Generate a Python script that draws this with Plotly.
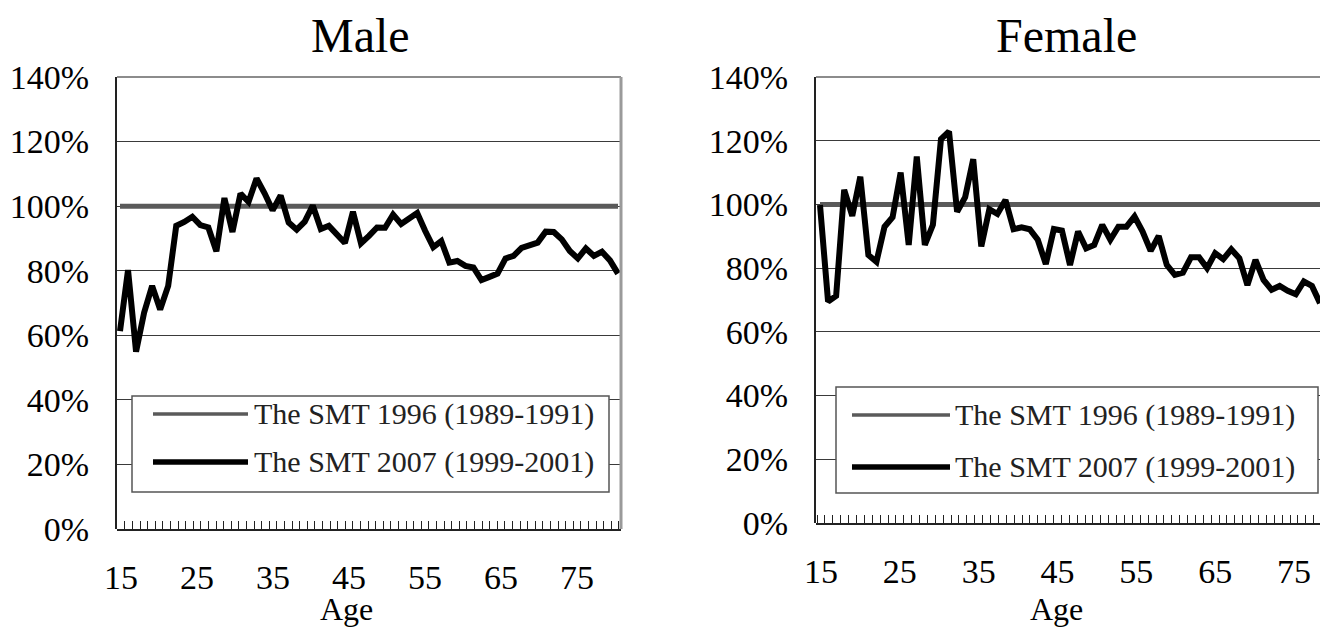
import plotly.graph_objects as go

# ---------------- data ----------------
ages = list(range(15, 78))  # 15..77

male_2007 = [61.3, 80.2, 54.9, 67.0, 75.3, 68.0, 75.3, 93.9, 95.1, 96.7,
             94.1, 93.4, 86.0, 102.5, 92.0, 103.9, 101.3, 108.6, 104.0, 98.7,
             103.3, 94.9, 92.7, 95.2, 100.2, 92.9, 93.9, 91.5, 88.6, 98.3,
             88.5, 90.8, 93.4, 93.3, 97.4, 94.5, 96.4, 97.9, 92.3, 87.3,
             89.2, 82.5, 83.0, 81.5, 81.0, 77.1, 78.1, 79.1, 83.8, 84.6,
             87.1, 88.0, 88.7, 92.1, 92.0, 89.7, 86.1, 83.8, 86.9, 84.6,
             85.9, 83.2, 79.1]

female_2007 = [99.8, 69.5, 71.3, 104.6, 96.4, 108.7, 84.1, 82.0, 93.0, 96.0,
               110.0, 87.3, 115.0, 87.3, 93.6, 120.5, 122.9, 97.7, 102.3, 114.2,
               86.8, 98.5, 97.0, 101.4, 92.2, 92.8, 92.2, 88.9, 81.3, 92.3,
               91.8, 81.0, 91.5, 86.2, 87.3, 93.6, 88.9, 93.0, 93.0, 96.2,
               91.5, 85.4, 90.1, 81.0, 77.9, 78.6, 83.4, 83.4, 80.0, 84.7,
               82.8, 85.9, 83.1, 74.7, 82.6, 76.3, 73.2, 74.4, 72.9, 71.8,
               75.8, 74.4, 69.0]

smt1996_ratio = [100.0] * len(ages)   # reference table = 100%

x_tick_vals = [15, 25, 35, 45, 55, 65, 75]
x_tick_text = ["15", "25", "35", "45", "55", "65", "75"]
y_tick_vals = [0, 20, 40, 60, 80, 100, 120, 140]
y_tick_text = ["0%", "20%", "40%", "60%", "80%", "100%", "120%", "140%"]

series_names = ["The SMT 1996 (1989-1991)", "The SMT 2007 (1999-2001)"]
panel_titles = ["Male", "Female"]
x_title = "Age"

# ---------------- layout helpers ----------------
OFF = 8                      # page body margin
W, H = 1328 - OFF, 628 - OFF
def fx(px):
    return (px - OFF) / W
def fy(py):
    return 1 - (py - OFF) / H

FONT = "Liberation Serif"
GRID = "#3a3a3a"
C1996 = "#5a5a5a"

panels = [
    dict(left=117, right=621, top=77, bottom=529,
         lab15=121, lab75=577, d0=120, d1=618,
         leg=(132, 396, 609, 492), legline=(153, 248), legtext=252, legy=(414, 462),
         title_x=361, title_y=35, age_x=346),
    dict(left=816, right=1322, top=77, bottom=523,
         lab15=821, lab75=1294, d0=820, d1=1320,
         leg=(836, 387, 1318, 493), legline=(852, 950), legtext=953, legy=(415, 467),
         title_x=1066, title_y=35, age_x=1056),
]

fig = go.Figure()
data_sets = [male_2007, female_2007]
shapes = []
annotations = []
layout = dict(width=W, height=H, margin=dict(l=0, r=0, t=0, b=0, autoexpand=False),
              paper_bgcolor="white", plot_bgcolor="rgba(0,0,0,0)", showlegend=False,
              font=dict(family=FONT, color="black"))

half_ticks = [a - 0.5 for a in range(14, 82)]
blank = [""] * len(half_ticks)

hidden_y = dict(range=[0, 1], showline=False, showgrid=False, zeroline=False,
                showticklabels=False, ticks="", automargin=False, fixedrange=True)

for i, p in enumerate(panels):
    xd, yd = ("xaxis", "yaxis") if i == 0 else ("xaxis2", "yaxis2")
    xd_ref, yd_ref = ("x", "y") if i == 0 else ("x2", "y2")
    xt, yt = "xaxis%d" % (3 + i), "yaxis%d" % (3 + i)      # tick-mark strip
    xt_ref, yt_ref = "x%d" % (3 + i), "y%d" % (3 + i)
    xl, yl = "xaxis%d" % (5 + i), "yaxis%d" % (5 + i)      # tick labels
    xl_ref, yl_ref = "x%d" % (5 + i), "y%d" % (5 + i)

    dom_x = [fx(p["left"]), fx(p["right"])]
    dom_y = [fy(p["bottom"]), fy(p["top"])]
    strip = [fy(p["bottom"]), fy(p["bottom"] - 2)]

    # data axes
    kd = (p["d1"] - p["d0"]) / (ages[-1] - ages[0])
    d0 = ages[0] - (p["d0"] - p["left"]) / kd
    d1 = ages[-1] + (p["right"] - p["d1"]) / kd
    layout[xd] = dict(domain=dom_x, anchor=yd_ref, range=[d0, d1],
                      showticklabels=False, ticks="", showgrid=False,
                      zeroline=False, showline=False, automargin=False, fixedrange=True)
    layout[yd] = dict(domain=dom_y, anchor=xd_ref, range=[0, 140],
                      tickmode="array", tickvals=y_tick_vals, ticktext=y_tick_text,
                      ticks="", showgrid=True, gridcolor=GRID, gridwidth=1,
                      zeroline=False, showline=True, linecolor="#222", linewidth=2,
                      ticklabelstandoff=19, automargin=False, fixedrange=True,
                      tickfont=dict(family=FONT, size=34, color="black"))

    # category axis: 15 at lab15, 75 at lab75
    k = (p["lab75"] - p["lab15"]) / 60.0
    r0 = 15 - (p["lab15"] - p["left"]) / k
    r1 = 15 + (p["right"] - p["lab15"]) / k

    # tick-mark strip (bottom line + inside ticks between categories)
    layout[xt] = dict(domain=dom_x, anchor=yt_ref, range=[r0, r1],
                      tickmode="array", tickvals=half_ticks, ticktext=blank,
                      ticks="inside", ticklen=8, tickwidth=1, tickcolor="#222",
                      showticklabels=False, showgrid=False, zeroline=False,
                      showline=True, linecolor="#222", linewidth=2,
                      automargin=False, fixedrange=True)
    layout[yt] = dict(domain=strip, anchor=xt_ref, **hidden_y)

    # label axis
    layout[xl] = dict(domain=dom_x, anchor=yl_ref, range=[r0, r1],
                      tickmode="array", tickvals=x_tick_vals, ticktext=x_tick_text,
                      ticks="", showgrid=False, zeroline=False, showline=False,
                      ticklabelstandoff=25, automargin=False, fixedrange=True,
                      tickfont=dict(family=FONT, size=34, color="black"))
    layout[yl] = dict(domain=strip, anchor=xl_ref, **hidden_y)

    # traces
    fig.add_trace(go.Scatter(x=ages, y=smt1996_ratio, mode="lines",
                             name=series_names[0], xaxis=xd_ref, yaxis=yd_ref,
                             line=dict(color=C1996, width=5), hoverinfo="skip"))
    fig.add_trace(go.Scatter(x=ages, y=data_sets[i], mode="lines",
                             name=series_names[1], xaxis=xd_ref, yaxis=yd_ref,
                             line=dict(color="black", width=6), hoverinfo="skip"))
    # empty traces so the tick-strip and label subplots get drawn
    fig.add_trace(go.Scatter(x=[], y=[], xaxis=xt_ref, yaxis=yt_ref, hoverinfo="skip"))
    fig.add_trace(go.Scatter(x=[], y=[], xaxis=xl_ref, yaxis=yl_ref, hoverinfo="skip"))

    # top / right border (gray)
    shapes.append(dict(type="line", xref="paper", yref="paper",
                       x0=fx(p["left"]), x1=fx(p["right"]), y0=fy(p["top"]), y1=fy(p["top"]),
                       line=dict(color="#8c8c8c", width=2), layer="above"))
    shapes.append(dict(type="line", xref="paper", yref="paper",
                       x0=fx(p["right"]), x1=fx(p["right"]), y0=fy(p["top"]), y1=fy(p["bottom"]),
                       line=dict(color="#9a9a9a", width=3), layer="above"))

    # legend box
    lx0, ly0, lx1, ly1 = p["leg"]
    shapes.append(dict(type="rect", xref="paper", yref="paper",
                       x0=fx(lx0), x1=fx(lx1), y0=fy(ly1), y1=fy(ly0),
                       line=dict(color="#555", width=1.5), fillcolor="white", layer="above"))
    a, b = p["legline"]
    shapes.append(dict(type="line", xref="paper", yref="paper",
                       x0=fx(a), x1=fx(b), y0=fy(p["legy"][0]), y1=fy(p["legy"][0]),
                       line=dict(color=C1996, width=3.5), layer="above"))
    shapes.append(dict(type="line", xref="paper", yref="paper",
                       x0=fx(a), x1=fx(b), y0=fy(p["legy"][1]), y1=fy(p["legy"][1]),
                       line=dict(color="black", width=5.5), layer="above"))
    for j in range(2):
        annotations.append(dict(xref="paper", yref="paper", x=fx(p["legtext"]),
                                y=fy(p["legy"][j]), xanchor="left", yanchor="middle",
                                text=series_names[j], showarrow=False,
                                font=dict(family=FONT, size=30, color="#222")))

    annotations.append(dict(xref="paper", yref="paper", x=fx(p["title_x"]),
                            y=fy(p["title_y"]), xanchor="center", yanchor="middle",
                            text=panel_titles[i], showarrow=False,
                            font=dict(family=FONT, size=48, color="black")))
    annotations.append(dict(xref="paper", yref="paper", x=fx(p["age_x"]),
                            y=fy(609), xanchor="center", yanchor="middle",
                            text=x_title, showarrow=False,
                            font=dict(family=FONT, size=32, color="black")))

layout["shapes"] = shapes
layout["annotations"] = annotations
fig.update_layout(**layout)

fig.write_html("out.html")
